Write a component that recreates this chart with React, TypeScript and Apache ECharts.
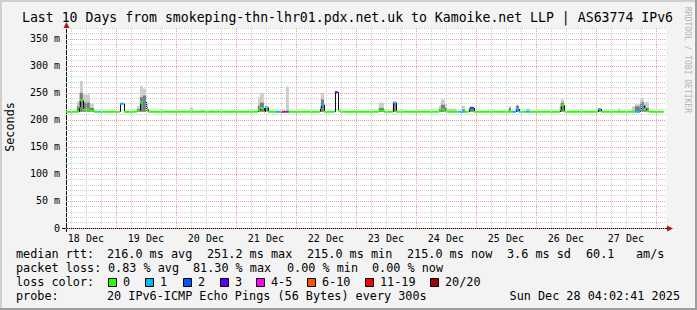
import React, { useEffect, useRef } from 'react';
import * as echarts from 'echarts';

// ---------- data (x in hours since 18 Dec 00:00, y in ms) ----------
const TITLE = 'Last 10 Days from smokeping-thn-lhr01.pdx.net.uk to Kamoike.net LLP | AS63774 IPv6';
const X_MIN = 4.045; // 18 Dec 04:02:41
const X_MAX = 244.045; // 28 Dec 04:02:41
const Y_MAX = 370;
const dayLabels = ['18 Dec', '19 Dec', '20 Dec', '21 Dec', '22 Dec', '23 Dec', '24 Dec', '25 Dec', '26 Dec', '27 Dec'];
const dayLabelHours = [12, 36, 60, 84, 108, 132, 156, 180, 204, 228];

const lossLabels = ['0', '1', '2', '3', '4-5', '6-10', '11-19', '20/20'];
const lossColors = ['#26ff00', '#00b8ff', '#0059ff', '#5e00ff', '#ff00ff', '#ff5500', '#ff0000', '#a00000'];

// median RTT step series: start time, value, loss bucket index
const medianTime = [4.05, 9.2, 9.6, 10.8, 13.6, 15.2, 17.2, 18.0, 25.2, 25.6, 27.2, 32.4, 33.6, 34.8, 36.0, 36.8,
  80.8, 81.6, 83.2, 83.6, 84.8, 88.0, 90.0, 92.0, 93.2, 105.6, 106.0, 107.2, 111.2, 111.6, 112.8, 113.6,
  129.2, 131.2, 134.8, 136.0, 153.2, 154.0, 155.6, 156.4, 161.2, 163.6, 165.2, 165.6, 167.2,
  182.4, 184.0, 185.2, 186.0, 188.0, 189.6, 201.6, 202.0, 203.2, 203.6, 216.8, 218.0,
  231.6, 233.6, 234.0, 235.2, 236.0, 237.2];
const medianRtt = [215, 224, 236, 219, 217, 215, 215, 215, 215, 230, 215, 217, 232, 234, 219, 215,
  218, 222, 215, 223, 215, 215, 215, 215, 215, 222, 228, 215, 215, 251.2, 217, 215,
  217, 215, 232, 215, 216, 219, 216, 215, 215, 215, 221, 222, 215,
  215, 220, 215, 215, 215, 215, 219, 227, 216, 215, 220, 215,
  215, 218, 226, 220, 216, 215];
const medianLoss = [0, 0, 0, 0, 0, 0, 1, 0, 1, 1, 0, 0, 0, 1, 0, 0,
  0, 0, 0, 1, 0, 1, 6, 2, 0, 0, 1, 0, 1, 3, 0, 0,
  0, 0, 1, 0, 0, 0, 0, 0, 1, 0, 0, 2, 0,
  1, 1, 1, 0, 1, 0, 0, 0, 0, 0, 1, 0,
  1, 1, 1, 0, 0, 0];
const medianEnd = 243.2;

// smoke columns: start, end, highest ping, dense core top
const minRtt = 215;
const smokeStart = [8.4, 9.2, 9.6, 10.8, 13.6, 32.4, 33.6, 34.8, 36.0, 53.6, 58.0, 62.0,
  80.8, 81.6, 83.6, 92.0, 106.0, 129.2, 134.8, 153.2, 154.0, 155.6, 156.4, 162.4, 165.6,
  181.2, 184.0, 188.0, 201.6, 202.0, 216.8, 224.8, 230.4, 231.6, 233.6, 234.0, 235.2, 236.0];
const smokeEnd = [9.2, 9.6, 10.8, 13.6, 15.2, 33.6, 34.8, 36.0, 36.8, 54.8, 59.2, 62.8,
  81.6, 83.2, 84.8, 93.2, 107.2, 131.2, 136.0, 154.0, 155.6, 156.4, 160.0, 163.6, 167.2,
  182.0, 185.2, 189.6, 202.0, 203.2, 218.0, 225.6, 231.6, 233.6, 234.0, 235.2, 236.0, 237.2];
const smokeHigh = [233, 250, 272, 247, 230, 225, 263, 258, 232, 223, 218, 218,
  242, 250, 226, 262, 250, 232, 233, 226, 238, 230, 221, 226, 225,
  226, 228, 221, 230, 238, 221, 221, 225, 229, 238, 240, 232, 234];
const smokeCore = [225, 235, 250, 232, 222, 220, 242, 245, 224, 0, 0, 0,
  226, 232, 224, 0, 238, 222, 232, 220, 228, 222, 0, 219, 224,
  222, 226, 0, 225, 232, 220, 0, 0, 225, 230, 233, 227, 222];

const medianStats = ['216.0 ms avg', '251.2 ms max', '215.0 ms min', '215.0 ms now', '3.6 ms sd', '60.1', 'am/s'];
const medianStatX = [107, 207, 307, 407, 507, 586, 636];
const lossStats = ['0.83 % avg', '81.30 % max', '0.00 % min', '0.00 % now'];
const lossStatX = [108, 193, 287, 372];
const lossBoxX = [108, 145, 183, 220, 256, 307, 365, 430];
const PROBE = '20 IPv6-ICMP Echo Pings (56 Bytes) every 300s';
const STAMP = 'Sun Dec 28 04:02:41 2025';

const MONO = "'DejaVu Sans Mono', monospace";

function buildOption() {
  const medianData = medianTime.map((t, i) => [
    t,
    i + 1 < medianTime.length ? medianTime[i + 1] : medianEnd,
    medianRtt[i],
    medianLoss[i],
    i > 0 ? medianRtt[i - 1] : medianRtt[i],
  ]);
  const smokeData = smokeStart.map((s, i) => [s, smokeEnd[i], smokeHigh[i], smokeCore[i], minRtt]);

  const gridLines: any[] = [];
  for (let h = 6; h <= 240; h += 6) {
    const major = h % 24 === 0;
    gridLines.push({
      xAxis: h,
      lineStyle: { color: major ? '#eb9e9e' : '#cfcfcf', type: [1, 1], width: 1 },
    });
  }

  const text = (x: number, y: number, t: string, size: number, align = 'left', extra: any = {}) => ({
    type: 'text',
    x,
    y,
    silent: true,
    ...extra,
    style: { text: t, fill: extra.fill || '#000', fontFamily: MONO, fontSize: size, align, verticalAlign: 'middle' },
  });

  const graphics: any[] = [
    // frame
    { type: 'rect', shape: { x: 0, y: 0, width: 697, height: 2 }, style: { fill: '#cfcfcf' }, silent: true },
    { type: 'rect', shape: { x: 0, y: 0, width: 2, height: 310 }, style: { fill: '#cfcfcf' }, silent: true },
    { type: 'rect', shape: { x: 0, y: 308, width: 697, height: 2 }, style: { fill: '#9e9e9e' }, silent: true },
    { type: 'rect', shape: { x: 695, y: 0, width: 2, height: 310 }, style: { fill: '#9e9e9e' }, silent: true },
    text(347.5, 17, TITLE, 13.2, 'center'),
    text(10, 127, 'Seconds', 11.8, 'center', { rotation: Math.PI / 2 }),
    text(687, 60, 'RRDTOOL / TOBI OETIKER', 8, 'center', { rotation: -Math.PI / 2, fill: '#b4b4b4' }),
    // axis extensions and arrows
    { type: 'line', shape: { x1: 62, y1: 228.5, x2: 668, y2: 228.5 }, style: { stroke: '#101010', lineWidth: 1 }, silent: true },
    { type: 'line', shape: { x1: 66.5, y1: 232, x2: 66.5, y2: 25 }, style: { stroke: '#101010', lineWidth: 1 }, silent: true },
    { type: 'polygon', shape: { points: [[667, 225.5], [673, 228.5], [667, 231.5]] }, style: { fill: '#b01818' }, silent: true },
    { type: 'polygon', shape: { points: [[63.5, 28], [66.5, 22], [69.5, 28]] }, style: { fill: '#b01818' }, silent: true },
    // legend
    text(16, 254, 'median rtt:', 11.8),
    ...medianStats.map((s, i) => text(medianStatX[i], 254, s, 11.8)),
    text(16, 268, 'packet loss:', 11.8),
    ...lossStats.map((s, i) => text(lossStatX[i], 268, s, 11.8)),
    text(16, 282, 'loss color:', 11.8),
    ...lossLabels.map((l, i) => ({
      type: 'rect',
      silent: true,
      shape: { x: lossBoxX[i] + 0.5, y: 278.5, width: 8, height: 8 },
      style: { fill: lossColors[i], stroke: '#000', lineWidth: 1 },
    })),
    ...lossLabels.map((l, i) => text(lossBoxX[i] + 15, 282, l, 11.8)),
    text(16, 296, 'probe:', 11.8),
    text(107, 296, PROBE, 11.8),
    text(680, 296, STAMP, 11.8, 'right'),
  ];

  return {
    animation: false,
    backgroundColor: '#f3f3f3',
    grid: { left: 66, top: 28, width: 600, height: 200, show: true, backgroundColor: '#ffffff', borderWidth: 0 },
    xAxis: {
      type: 'value',
      min: X_MIN,
      max: X_MAX,
      axisLine: { show: false },
      axisTick: { show: false },
      splitLine: { show: false },
      axisLabel: {
        customValues: dayLabelHours,
        margin: 5,
        fontFamily: MONO,
        fontSize: 10,
        color: '#000',
        formatter: (v: number) => {
          const i = dayLabelHours.indexOf(Math.round(v));
          return i >= 0 ? dayLabels[i] : '';
        },
      },
    },
    yAxis: {
      type: 'value',
      min: 0,
      max: Y_MAX,
      interval: 10,
      axisLine: { show: false },
      axisTick: { show: false },
      splitLine: {
        show: true,
        lineStyle: { color: ['#eb9e9e', '#cfcfcf', '#cfcfcf', '#cfcfcf', '#cfcfcf'], type: [1, 1], width: 1 },
      },
      axisLabel: {
        margin: 6,
        fontFamily: MONO,
        fontSize: 10,
        color: '#000',
        formatter: (v: number) => (v % 50 === 0 ? (v === 0 ? '0' : `${v} m`) : ''),
      },
    },
    series: [
      {
        type: 'line',
        z: 1,
        data: [[X_MIN, minRtt]],
        symbol: 'none',
        lineStyle: { opacity: 0 },
        silent: true,
        markLine: { silent: true, symbol: ['none', 'none'], label: { show: false }, data: gridLines },
      },
      {
        type: 'custom',
        z: 2,
        silent: true,
        data: smokeData,
        encode: { x: [0, 1], y: [2, 4] },
        renderItem: (params: any, api: any) => {
          const s = api.value(0), e = api.value(1), hi = api.value(2), core = api.value(3), lo = api.value(4);
          const a = api.coord([s, hi]);
          const b = api.coord([e, lo]);
          const children: any[] = [
            { type: 'rect', shape: { x: a[0], y: a[1], width: b[0] - a[0], height: b[1] - a[1] }, style: { fill: '#cdcdcd' } },
          ];
          if (core > lo) {
            const c = api.coord([s, core]);
            children.push({ type: 'rect', shape: { x: c[0], y: c[1], width: b[0] - c[0], height: b[1] - c[1] }, style: { fill: '#7c7c7c' } });
          }
          return { type: 'group', children };
        },
      },
      {
        type: 'custom',
        z: 3,
        silent: true,
        data: medianData,
        encode: { x: [0, 1], y: 2 },
        renderItem: (params: any, api: any) => {
          const s = api.value(0), e = api.value(1), v = api.value(2), loss = api.value(3), prev = api.value(4);
          const p0 = api.coord([s, v]);
          const p1 = api.coord([e, v]);
          const children: any[] = [];
          if (Math.abs(prev - v) > 1.5) {
            const pp = api.coord([s, prev]);
            const x = Math.round(p0[0]) + 0.5;
            children.push({ type: 'line', shape: { x1: x, y1: pp[1], x2: x, y2: p0[1] }, style: { stroke: '#101010', lineWidth: 1 } });
          }
          children.push({ type: 'rect', shape: { x: p0[0], y: p0[1] - 1, width: p1[0] - p0[0], height: 2 }, style: { fill: lossColors[loss] } });
          return { type: 'group', children };
        },
      },
    ],
    graphic: graphics,
  };
}

export default function App() {
  const ref = useRef<HTMLDivElement>(null);
  useEffect(() => {
    const chart = echarts.init(ref.current!, undefined, { renderer: 'svg' });
    chart.setOption(buildOption() as any);
    return () => chart.dispose();
  }, []);
  return <div ref={ref} style={{ position: 'fixed', left: 0, top: 0, width: 697, height: 310 }} />;
}
